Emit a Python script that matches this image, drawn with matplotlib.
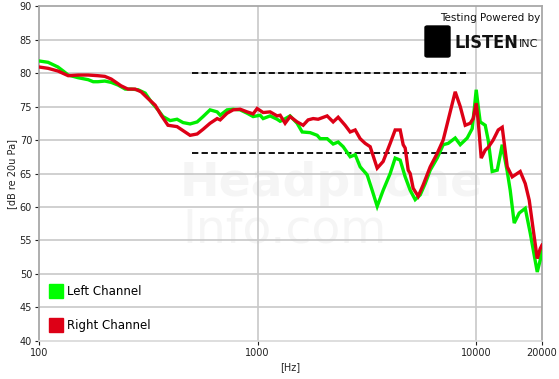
# 导入第三方库模块
import matplotlib
matplotlib.use('Agg')
from matplotlib import pyplot as plt
from matplotlib.lines import Line2D
from matplotlib.patches import FancyBboxPatch


# 左声道频响数据
left_freq = [
    100, 110, 122, 129, 136, 151, 168, 177, 186, 200, 214, 230, 248, 264,
    284, 306, 326, 350, 369, 398, 428, 456, 491, 529, 563, 606, 653, 674,
    725, 773, 832, 895, 954, 1027, 1060, 1141, 1228, 1268, 1308, 1408,
    1516, 1599, 1739, 1873, 1932, 2080, 2216, 2336, 2463, 2651, 2795,
    2945, 3171, 3342, 3524, 3753, 4041, 4259, 4490, 4733, 4989, 5258,
    5543, 5843, 6160, 6630, 7063, 7446, 8016, 8452, 9097, 9587, 9790,
    10000, 10214, 10431, 10997, 11344, 11834, 12479, 13152, 13868, 14307,
    14925, 15731, 16763, 17668, 18237, 19021, 19633, 20000,
]
left_db = [
    81.8, 81.6, 80.9, 80.3, 79.7, 79.3, 79.0, 78.7, 78.7, 78.8, 78.6, 78.2,
    77.6, 77.6, 77.5, 77.0, 75.7, 74.5, 73.5, 72.9, 73.1, 72.6, 72.4, 72.7,
    73.5, 74.5, 74.2, 73.7, 74.5, 74.6, 74.5, 74.0, 73.5, 73.7, 73.2, 73.6,
    73.1, 72.8, 73.0, 73.6, 72.5, 71.2, 71.1, 70.7, 70.2, 70.2, 69.4, 69.7,
    69.0, 67.5, 67.8, 66.0, 64.8, 62.5, 60.1, 62.5, 65.0, 67.3, 67.0, 64.5,
    62.5, 61.1, 61.8, 63.5, 65.5, 67.3, 69.3, 69.5, 70.3, 69.3, 70.3, 71.7,
    74.5, 77.5, 75.0, 72.7, 72.2, 70.0, 65.3, 65.5, 69.3, 65.3, 62.5, 57.6,
    59.1, 59.8, 56.1, 53.6, 50.3, 52.1, 54.1,
]

# 右声道频响数据
right_freq = [
    100, 110, 122, 136, 151, 168, 186, 200, 214, 237, 255, 275, 293, 315,
    340, 362, 389, 428, 456, 491, 529, 563, 606, 653, 674, 725, 773, 832,
    895, 954, 995, 1060, 1141, 1228, 1268, 1336, 1408, 1516, 1616, 1702,
    1795, 1892, 2080, 2216, 2336, 2514, 2651, 2795, 2945, 3105, 3273,
    3524, 3753, 4041, 4259, 4490, 4634, 4733, 4885, 4989, 5148, 5428,
    5721, 6160, 6630, 7063, 7446, 8016, 8452, 8907, 9387, 9689, 10000,
    10214, 10542, 10997, 11344, 11960, 12611, 13152, 13868, 14614, 15083,
    15898, 16763, 17485, 18237, 19021, 19633, 20000,
]
right_db = [
    80.9, 80.7, 80.3, 79.6, 79.7, 79.7, 79.6, 79.5, 79.1, 78.1, 77.6, 77.6,
    77.2, 76.2, 75.2, 73.7, 72.2, 72.0, 71.4, 70.7, 70.9, 71.6, 72.5, 73.2,
    73.0, 74.0, 74.5, 74.6, 74.2, 73.9, 74.7, 74.1, 74.2, 73.6, 73.7, 72.5,
    73.5, 72.7, 72.2, 73.0, 73.2, 73.1, 73.6, 72.7, 73.4, 72.2, 71.2, 71.5,
    70.2, 69.5, 69.0, 65.8, 66.8, 69.5, 71.5, 71.5, 69.3, 68.8, 65.5, 65.0,
    62.8, 61.6, 63.3, 66.0, 68.0, 70.0, 73.0, 77.2, 75.0, 72.2, 72.5, 73.2,
    75.5, 72.8, 67.3, 68.5, 68.9, 70.0, 71.5, 71.9, 66.0, 64.5, 64.8, 65.3,
    63.5, 61.0, 56.6, 52.3, 53.8, 54.3,
]

# 参考虚线 (频率范围, 电平)
ref_freq = [500, 9000]
ref_levels = [80, 68]

# 坐标轴刻度
y_ticks = [40, 45, 50, 55, 60, 65, 70, 75, 80, 85, 90]
x_ticks = [100, 1000, 10000, 20000]
x_tick_labels = ['100', '1000', '10000', '20000']


# 创建画布
fig = plt.figure(figsize=(5.59, 3.79), dpi=100)
ax = fig.add_axes([0.0698, 0.1003, 0.8998, 0.8838])

GRID = '#c8c8c8'

# 水平网格线
for y in y_ticks[1:-1]:
    ax.axhline(y, color=GRID, lw=1.2, zorder=1)

# 竖直网格线
for x in [1000, 10000]:
    ax.axvline(x, color=GRID, lw=1.2, zorder=1)

# 水印文字
ax.text(0.28, 0.47, 'Headphone', transform=ax.transAxes, fontsize=34,
        fontweight='bold', color='#f5f5f5', ha='left', va='center', zorder=0)
ax.text(0.285, 0.33, 'Info.com', transform=ax.transAxes, fontsize=34,
        color='#f5f5f5', ha='left', va='center', zorder=0)

# 参考虚线
for level in ref_levels:
    ax.plot(ref_freq, [level, level], color='black', lw=1.3,
            ls=(0, (3.5, 1.8)), zorder=3)

# 频响曲线
ax.plot(left_freq, left_db, color='#00ee00', lw=2.4, zorder=4,
        solid_joinstyle='miter')
ax.plot(right_freq, right_db, color='#dd0016', lw=2.4, zorder=5,
        solid_joinstyle='miter')

# 坐标轴设置
ax.set_xscale('log')
ax.set_xlim(100, 20000)
ax.set_ylim(40, 90)
ax.set_xticks(x_ticks)
ax.set_xticklabels(x_tick_labels)
ax.xaxis.set_minor_locator(matplotlib.ticker.NullLocator())
ax.set_yticks(y_ticks)
ax.tick_params(axis='both', labelsize=7, colors='#222222', length=3,
               width=0.8, pad=2)

# 边框
for side in ['left', 'top', 'right']:
    ax.spines[side].set_color('#a8a8a8')
    ax.spines[side].set_linewidth(1.3)
ax.spines['bottom'].set_color('#d8d8d8')
ax.spines['bottom'].set_linewidth(1.2)

# 轴标签
ax.set_xlabel('[Hz]', fontsize=7, color='#222222', labelpad=3)
ax.set_ylabel('[dB re 20u Pa]', fontsize=7, color='#222222', labelpad=2)

# 图例
handles = [
    Line2D([], [], ls='none', marker='s', markersize=9.5,
           markerfacecolor='#00ff00', markeredgecolor='#00ff00'),
    Line2D([], [], ls='none', marker='s', markersize=9.5,
           markerfacecolor='#dd0016', markeredgecolor='#dd0016'),
]
ax.legend(handles, ['Left Channel', 'Right Channel'], loc='lower left',
          bbox_to_anchor=(-0.002, -0.005), frameon=False, fontsize=8.5,
          handletextpad=0.35, labelspacing=1.75, handlelength=1.2)

# 右上角标识
fig.patches.append(FancyBboxPatch((425 / 559, 1 - 57 / 379), 25 / 559,
                                  31 / 379,
                                  boxstyle='round,pad=0,rounding_size=0.004',
                                  transform=fig.transFigure, color='black'))
fig.text(540 / 559, 1 - 18 / 379, 'Testing Powered by', fontsize=7.5,
         ha='right', va='center', color='#111111')
fig.text(454 / 559, 1 - 43 / 379, 'LISTEN', fontsize=13, fontweight='bold',
         ha='left', va='center', color='#111111', fontstretch='condensed')
fig.text(519 / 559, 1 - 44 / 379, 'INC', fontsize=8, ha='left',
         va='center', color='#111111')

# 保存图像
fig.savefig('out.png', dpi=100, facecolor='white')
